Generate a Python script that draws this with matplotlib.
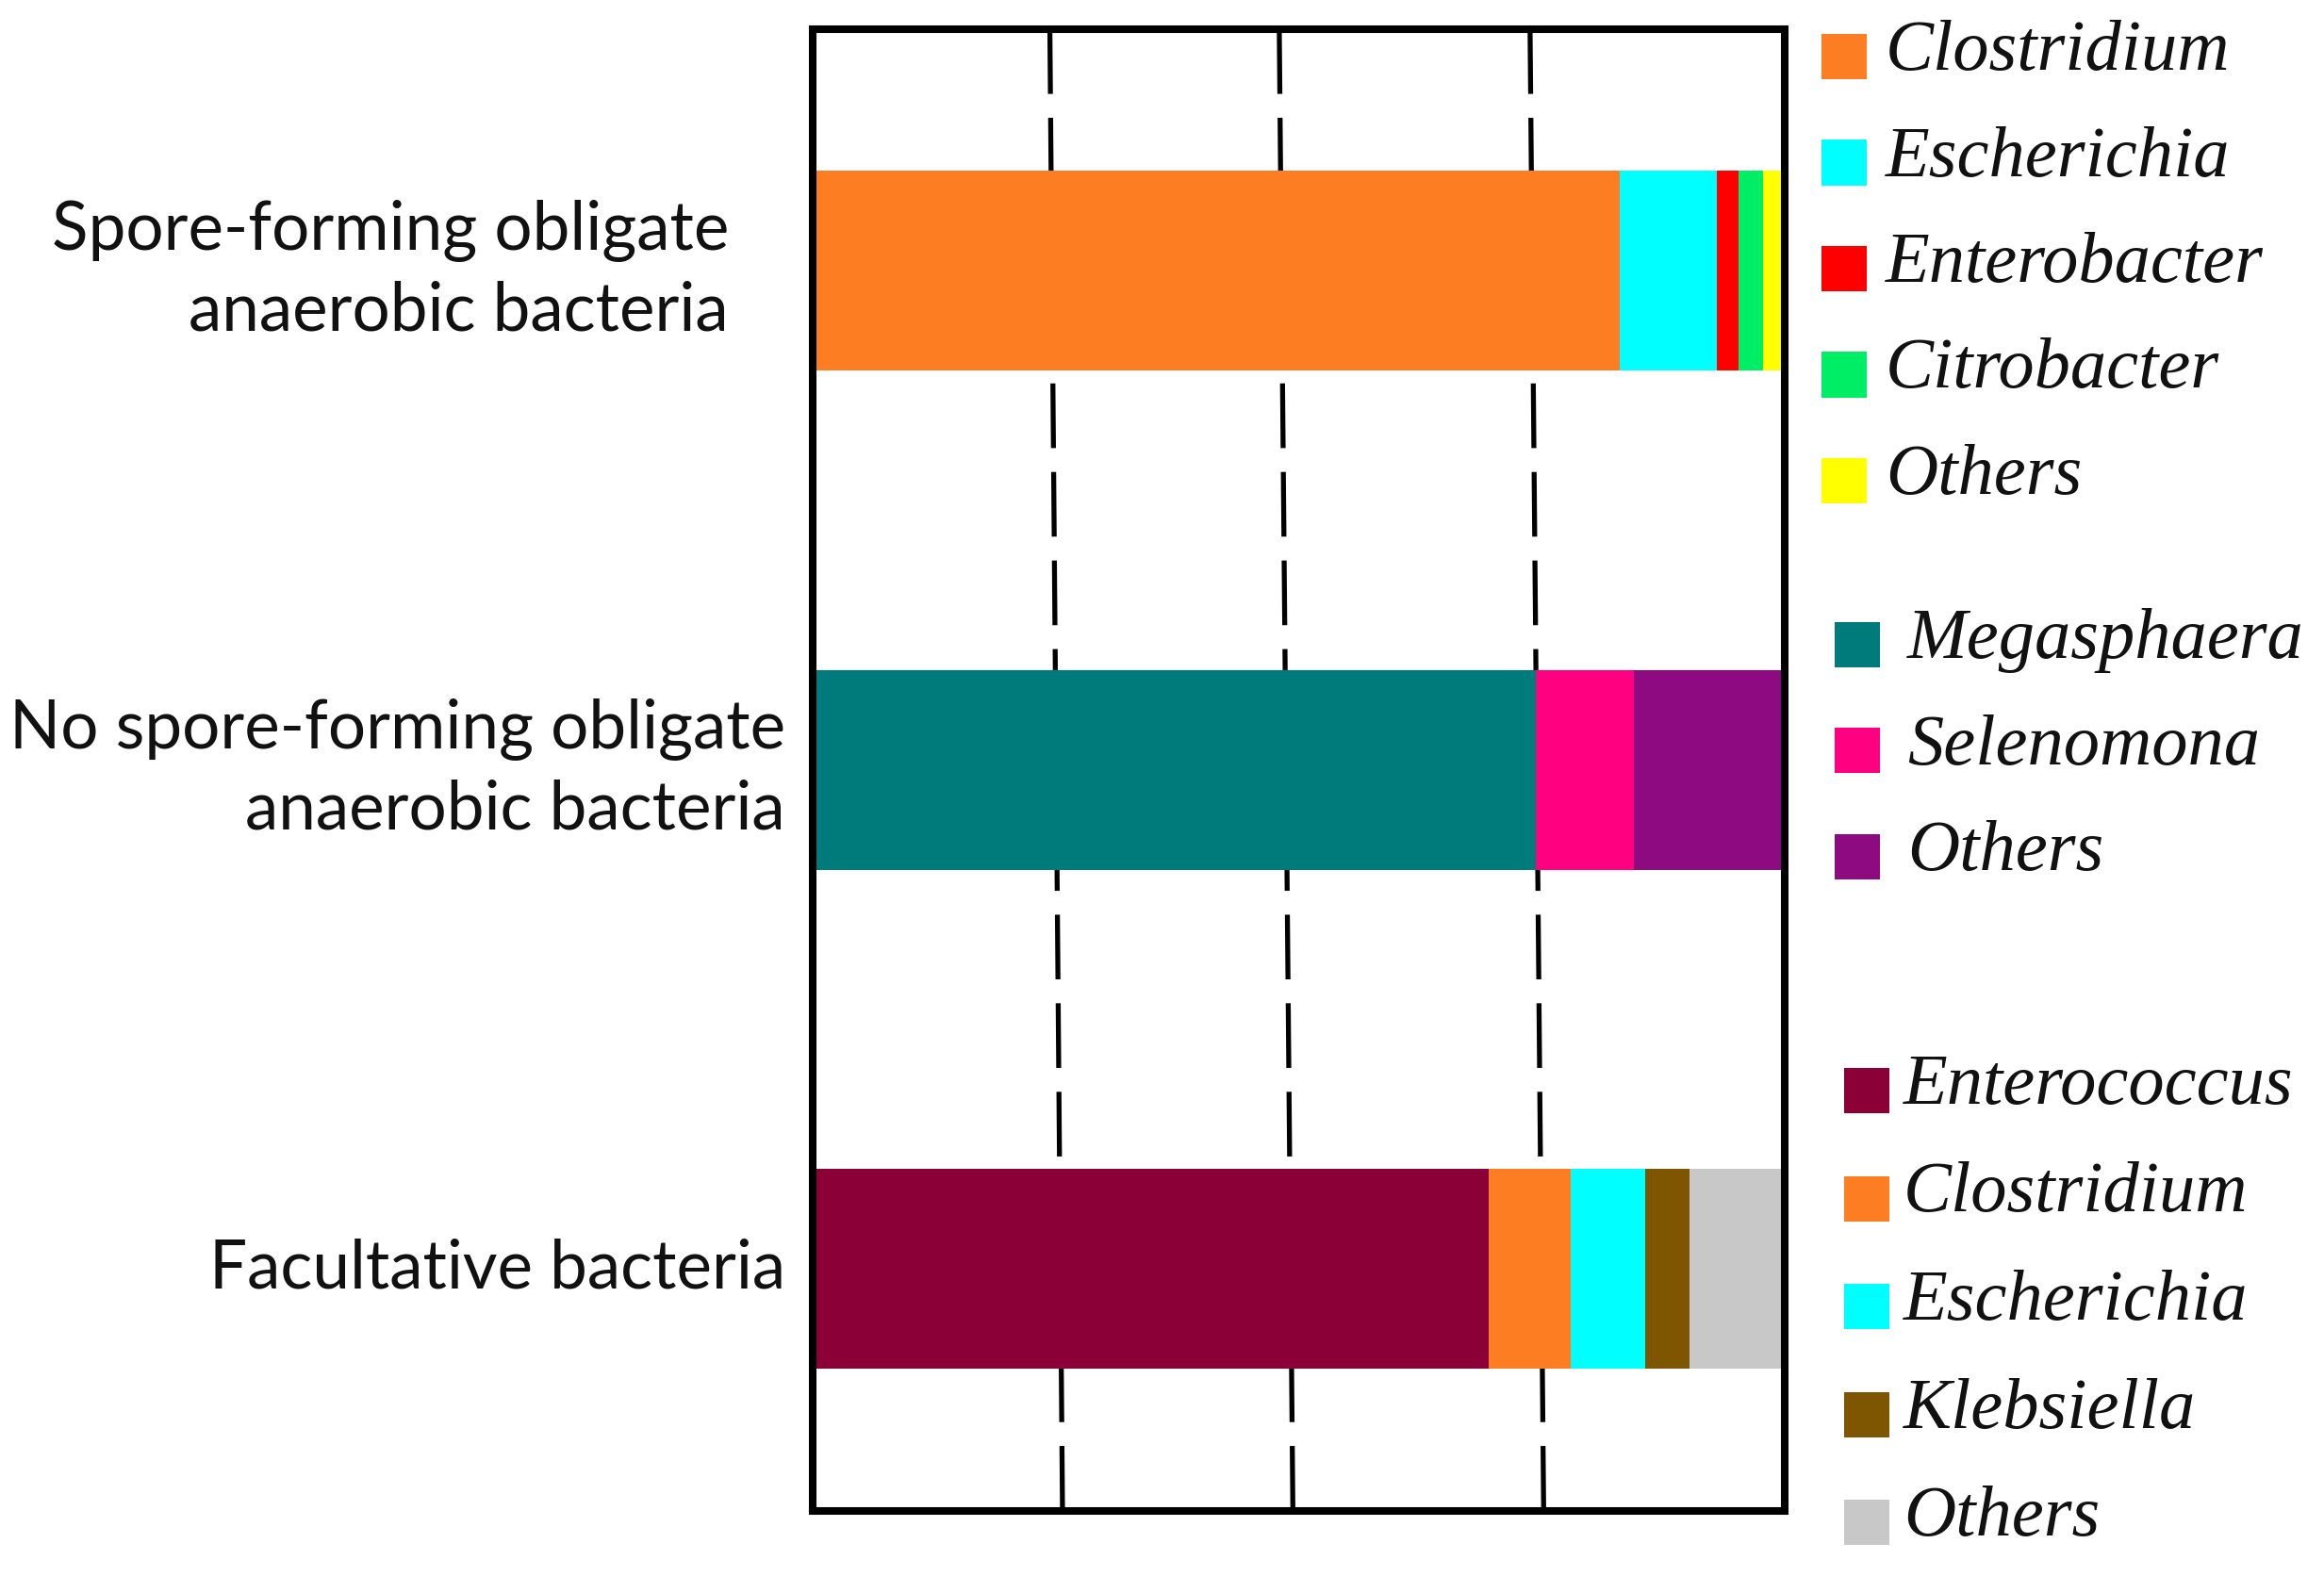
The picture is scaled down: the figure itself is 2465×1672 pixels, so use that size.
import matplotlib
matplotlib.use("Agg")
import matplotlib.pyplot as plt
from matplotlib.patches import Rectangle
from matplotlib.transforms import blended_transform_factory, offset_copy
from matplotlib.textpath import TextPath
from matplotlib.font_manager import FontProperties

# ---------------- data ----------------
categories = ["Spore-forming obligate\nanaerobic bacteria",
              "No spore-forming obligate\nanaerobic bacteria",
              "Facultative bacteria"]

spore_genera = ["Clostridium", "Escherichia", "Enterobacter", "Citrobacter", "Others"]
spore_values = [83.0, 10.0, 2.2, 2.6, 2.2]
spore_colors = ["#FD7E22", "#00FFFF", "#FF0000", "#00EE66", "#FFFF00"]

nonspore_genera = ["Megasphaera", "Selenomona", "Others"]
nonspore_values = [74.4, 10.1, 15.5]
nonspore_colors = ["#007B7B", "#FF0080", "#8E0A80"]

fac_genera = ["Enterococcus", "Clostridium", "Escherichia", "Klebsiella", "Others"]
fac_values = [69.5, 8.5, 7.6, 4.6, 9.8]
fac_colors = ["#8B0036", "#FD7E22", "#00FFFF", "#7E5500", "#C8C8C8"]

# dashed guide lines (x at top / bottom of the frame, % scale; slightly skewed in source)
guide_top = [24.4, 48.0, 73.8]
guide_bottom = [25.7, 49.4, 75.2]

groups = [(spore_genera, spore_values, spore_colors),
          (nonspore_genera, nonspore_values, nonspore_colors),
          (fac_genera, fac_values, fac_colors)]

# ---------------- figure ----------------
W, H, DPI = 2465, 1672, 100
fig = plt.figure(figsize=(W / DPI, H / DPI), dpi=DPI)
ax_l, ax_r, ax_t, ax_b = 862, 1893, 31, 1603
ax = fig.add_axes([ax_l / W, 1 - ax_b / H, (ax_r - ax_l) / W, (ax_b - ax_t) / H])

ypos = list(range(len(categories)))
bar_h = 0.4
for y, (names, vals, cols) in zip(ypos, groups):
    left = 0.0
    for v, c in zip(vals, cols):
        ax.barh(y, v, left=left, height=bar_h, color=c, edgecolor="none", zorder=3)
        left += v

ax.set_xlim(0, 100)
ax.set_ylim(2.485, -0.4835)

for xt, xb in zip(guide_top, guide_bottom):
    ax.plot([xt, xb], [-0.4835, 2.485], color="black", lw=3.8,
            linestyle=(0, (13.0, 4.8)), zorder=1, solid_capstyle="butt")

ax.set_xticks([])
ax.set_yticks([])
for s in ax.spines.values():
    s.set_linewidth(5.8)
    s.set_color("black")
    s.set_zorder(5)


def fit_size(text, prop, target_px, base=40.0):
    tp = TextPath((0, 0), text, size=base, prop=prop)
    w_pts = tp.get_extents().width
    return base * target_px / (w_pts * DPI / 72.0)


# category labels
sans = FontProperties(family="Lato")
cat_size = fit_size("Spore-forming obligate", sans, 713)
trans_base = blended_transform_factory(ax.transAxes, ax.transData)
label_pad_px = [89, 29, 29]
for y, lab, pad in zip(ypos, categories, label_pad_px):
    tr = offset_copy(trans_base, fig=fig, x=-pad, y=0, units="dots")
    ax.text(0, y, lab, transform=tr, ha="right", va="center", multialignment="right",
            fontsize=cat_size, family="Lato", color="#111111", linespacing=1.37)

# legend entries (manual, three groups)
serif_it = FontProperties(family="Liberation Serif", style="italic")
leg_size = fit_size("Clostridium", serif_it, 358)
leg_sq_x = [1932, 1946, 1956]
leg_txt_x = [2000, 2023, 2019]
leg_y0 = [60, 684, 1157]
leg_step = [112.5, 112.5, 114.5]
sq = 48
for gi, (names, vals, cols) in enumerate(groups):
    for i, (n, c) in enumerate(zip(names, cols)):
        cy = leg_y0[gi] + i * leg_step[gi]
        fig.add_artist(Rectangle((leg_sq_x[gi] / W, 1 - (cy + sq / 2) / H), sq / W, sq / H,
                                 transform=fig.transFigure, facecolor=c, edgecolor="none"))
        fig.text(leg_txt_x[gi] / W, 1 - (cy + 14) / H, n, ha="left", va="baseline",
                 fontsize=leg_size, family="Liberation Serif", style="italic", color="#111111")

fig.savefig("out.png", dpi=DPI, facecolor="white")
